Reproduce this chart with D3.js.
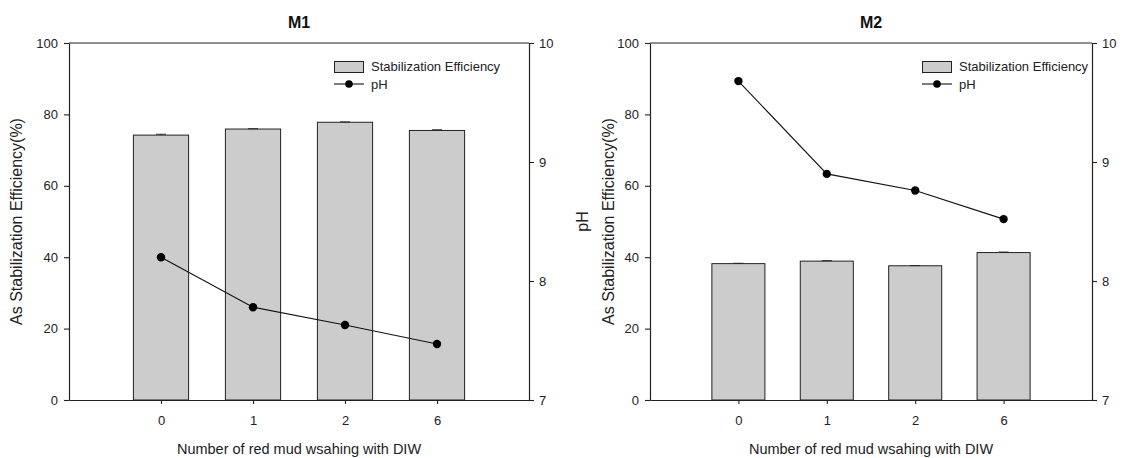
<!DOCTYPE html>
<html>
<head>
<meta charset="utf-8">
<script src="https://cdn.jsdelivr.net/npm/d3@7"></script>
<style>
  html, body { margin: 0; padding: 0; background: #fff; }
  svg { display: block; font-family: "Liberation Sans", Arial, sans-serif; }
</style>
</head>
<body>
<svg id="chart" width="1123" height="458"></svg>
<script>
// ---- data ----
const categories = ["0", "1", "2", "6"];
const leftTicks = [0, 20, 40, 60, 80, 100];
const rightTicks = [7, 8, 9, 10];

const m1Efficiency = [74.2, 75.9, 77.8, 75.5];
const m1EffError   = [0.25, 0.1, 0.1, 0.2];
const m1pH         = [8.20, 7.78, 7.63, 7.47];

const m2Efficiency = [38.2, 38.9, 37.6, 41.3];
const m2EffError   = [0.1, 0.15, 0.05, 0.15];
const m2pH         = [9.68, 8.90, 8.76, 8.52];

const legendLabels = ["Stabilization Efficiency", "pH"];
const xTitle = "Number of red mud wsahing with DIW";
const yTitle = "As Stabilization Efficiency(%)";

// ---- layout ----
const svg = d3.select("#chart");
const plotTop = 43, plotBottom = 400;
const axisColor = "#222";

const panels = [
  { title: "M1", left: 69, right: 529, eff: m1Efficiency, err: m1EffError, ph: m1pH,
    legendX: 334, yLabels: [{ text: yTitle, x: 22 }] },
  { title: "M2", left: 650, right: 1092, eff: m2Efficiency, err: m2EffError, ph: m2pH,
    legendX: 922, yLabels: [{ text: "pH", x: 588 }, { text: yTitle, x: 614 }] }
];

panels.forEach(p => {
  const g = svg.append("g");
  const x = d3.scaleLinear().domain([-1, 4]).range([p.left, p.right]);
  const yL = d3.scaleLinear().domain([0, 100]).range([plotBottom, plotTop]);
  const yR = d3.scaleLinear().domain([7, 10]).range([plotBottom, plotTop]);
  const bw = (x(1) - x(0)) * 0.6;
  const idx = d3.range(categories.length);

  // bars
  g.selectAll("rect.bar").data(idx).join("rect")
    .attr("class", "bar")
    .attr("x", i => x(i) - bw / 2)
    .attr("y", i => yL(p.eff[i]))
    .attr("width", bw)
    .attr("height", i => yL(0) - yL(p.eff[i]))
    .attr("fill", "#cccccc")
    .attr("stroke", axisColor)
    .attr("stroke-width", 1);

  // error bars (upper)
  const eg = g.selectAll("g.err").data(idx).join("g").attr("class", "err")
    .attr("stroke", axisColor).attr("stroke-width", 0.9);
  eg.append("line")
    .attr("x1", i => x(i)).attr("x2", i => x(i))
    .attr("y1", i => yL(p.eff[i])).attr("y2", i => yL(p.eff[i] + p.err[i]));
  eg.append("line")
    .attr("x1", i => x(i) - 5).attr("x2", i => x(i) + 5)
    .attr("y1", i => yL(p.eff[i] + p.err[i])).attr("y2", i => yL(p.eff[i] + p.err[i]));

  // pH line
  const line = d3.line().x(i => x(i)).y(i => yR(p.ph[i]));
  g.append("path").datum(idx)
    .attr("d", line)
    .attr("fill", "none")
    .attr("stroke", "#111")
    .attr("stroke-width", 1.1);
  g.selectAll("circle.pt").data(idx).join("circle")
    .attr("class", "pt")
    .attr("cx", i => x(i))
    .attr("cy", i => yR(p.ph[i]))
    .attr("r", 4.2)
    .attr("fill", "#000");

  // axes
  const fontSize = 13;
  const leftAxis = g.append("g").attr("transform", `translate(${p.left},0)`)
    .call(d3.axisLeft(yL).tickValues(leftTicks).tickSize(5).tickPadding(6).tickSizeOuter(0));
  const rightAxis = g.append("g").attr("transform", `translate(${p.right},0)`)
    .call(d3.axisRight(yR).tickValues(rightTicks).tickFormat(d3.format("d"))
      .tickSize(5).tickPadding(5).tickSizeOuter(0));
  const bottomAxis = g.append("g").attr("transform", `translate(0,${plotBottom})`)
    .call(d3.axisBottom(x).tickValues(idx).tickFormat(i => categories[i])
      .tickSize(4).tickPadding(12).tickSizeOuter(0));
  [leftAxis, rightAxis, bottomAxis].forEach(a => {
    a.selectAll("path.domain").attr("stroke", axisColor).attr("stroke-width", 1.2);
    a.selectAll(".tick line").attr("stroke", axisColor).attr("stroke-width", 1.1);
    a.selectAll(".tick text").attr("fill", "#222")
      .style("font-family", '"Liberation Sans", Arial, sans-serif')
      .style("font-size", fontSize + "px");
  });
  // top frame line
  g.append("line")
    .attr("x1", p.left).attr("x2", p.right)
    .attr("y1", plotTop).attr("y2", plotTop)
    .attr("stroke", axisColor).attr("stroke-width", 1.2);

  // title
  g.append("text")
    .attr("x", (p.left + p.right) / 2).attr("y", 28)
    .attr("text-anchor", "middle")
    .style("font-size", "16px").style("font-weight", "bold")
    .attr("fill", "#111")
    .text(p.title);

  // x title
  g.append("text")
    .attr("x", (p.left + p.right) / 2).attr("y", 454)
    .attr("text-anchor", "middle")
    .style("font-size", "14.5px")
    .attr("fill", "#222")
    .text(xTitle);

  // y titles
  p.yLabels.forEach(l => {
    g.append("text")
      .attr("transform", `translate(${l.x},${(plotTop + plotBottom) / 2}) rotate(-90)`)
      .attr("text-anchor", "middle")
      .style("font-size", "16px")
      .attr("fill", "#222")
      .text(l.text);
  });

  // legend
  const lg = g.append("g").attr("transform", `translate(${p.legendX},0)`);
  lg.append("rect")
    .attr("x", 0.5).attr("y", 61.5).attr("width", 29).attr("height", 11)
    .attr("fill", "#cccccc").attr("stroke", axisColor).attr("stroke-width", 1);
  lg.append("text").attr("x", 37).attr("y", 71)
    .style("font-size", "13px").attr("fill", "#222").text(legendLabels[0]);
  lg.append("line").attr("x1", 0).attr("x2", 30).attr("y1", 84).attr("y2", 84)
    .attr("stroke", "#111").attr("stroke-width", 1.1);
  lg.append("circle").attr("cx", 15).attr("cy", 84).attr("r", 3.8).attr("fill", "#000");
  lg.append("text").attr("x", 37).attr("y", 88.5)
    .style("font-size", "13px").attr("fill", "#222").text(legendLabels[1]);
});
</script>
</body>
</html>
